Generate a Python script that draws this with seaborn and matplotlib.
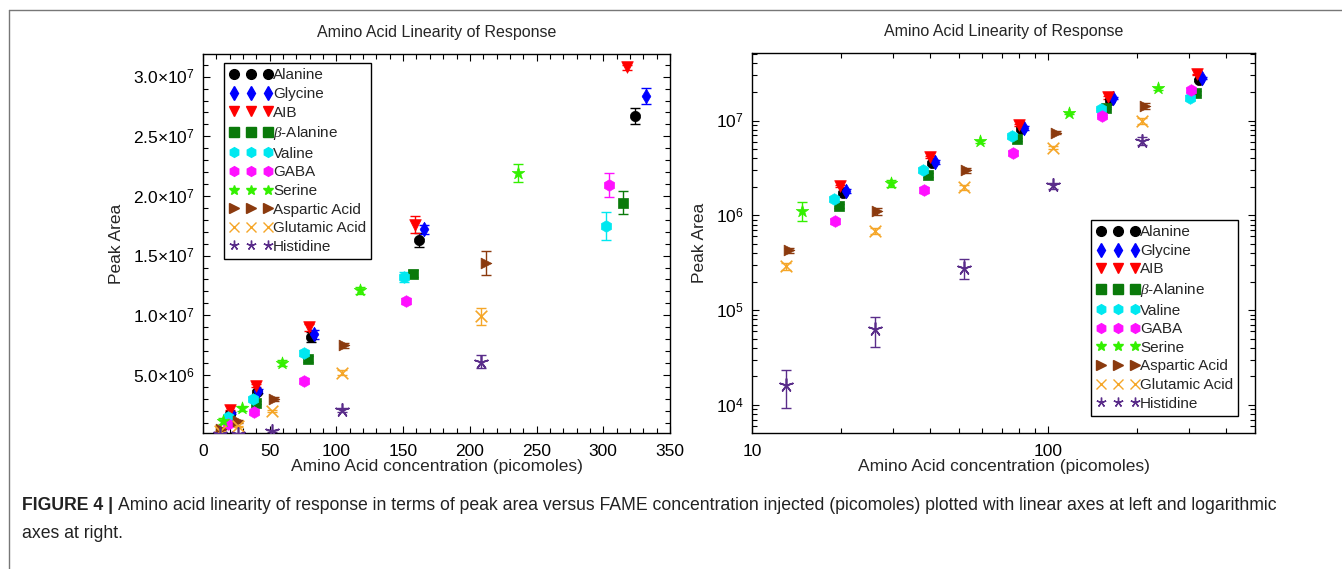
import numpy as np
import pandas as pd
import seaborn as sns
import matplotlib
matplotlib.use("Agg")
import matplotlib.pyplot as plt
from matplotlib.lines import Line2D
from matplotlib.ticker import MultipleLocator, FixedLocator, FuncFormatter, LogLocator, NullFormatter

# data: concentration (picomoles), peak area, error
acids = ["Alanine", "Glycine", "AIB", r"$\beta$-Alanine", "Valine", "GABA",
         "Serine", "Aspartic Acid", "Glutamic Acid", "Histidine"]

conc_alanine = [20.3, 40.5, 81, 162, 324]
conc_glycine = [20.8, 41.5, 83, 166, 332]
conc_aib = [19.9, 39.8, 79.5, 159, 318]
conc_balanine = [19.7, 39.4, 78.8, 157.5, 315]
conc_valine = [18.9, 37.8, 75.6, 151, 302]
conc_gaba = [19.0, 38.0, 76, 152, 304]
conc_serine = [14.75, 29.5, 59, 118, 236]
conc_aspartic = [13.3, 26.5, 53, 106, 212]
conc_glutamic = [13.0, 26.0, 52, 104, 208]
conc_histidine = [13.0, 26.0, 52, 104, 208]

area_alanine = [1.72e6, 3.6e6, 8.2e6, 1.63e7, 2.67e7]
area_glycine = [1.82e6, 3.65e6, 8.4e6, 1.72e7, 2.84e7]
area_aib = [2.02e6, 4.1e6, 9.0e6, 1.76e7, 3.08e7]
area_balanine = [1.26e6, 2.68e6, 6.37e6, 1.35e7, 1.945e7]
area_valine = [1.5e6, 3.0e6, 6.8e6, 1.32e7, 1.75e7]
area_gaba = [8.65e5, 1.86e6, 4.53e6, 1.12e7, 2.09e7]
area_serine = [1.12e6, 2.19e6, 6.03e6, 1.21e7, 2.19e7]
area_aspartic = [4.28e5, 1.10e6, 2.98e6, 7.48e6, 1.44e7]
area_glutamic = [2.9e5, 6.8e5, 1.97e6, 5.2e6, 9.9e6]
area_histidine = [1.62e4, 6.27e4, 2.79e5, 2.07e6, 6.1e6]

err_alanine = [8e4, 1.6e5, 4e5, 6e5, 7e5]
err_glycine = [8e4, 1.7e5, 4e5, 4e5, 6.5e5]
err_aib = [5e4, 1e5, 3e5, 7e5, 2e5]
err_balanine = [6e4, 1.2e5, 2.5e5, 3e5, 9.5e5]
err_valine = [7e4, 1.3e5, 2.5e5, 4e5, 1.16e6]
err_gaba = [5e4, 1.2e5, 2e5, 2.5e5, 1.0e6]
err_serine = [2.5e5, 2e5, 2.5e5, 3e5, 7.7e5]
err_aspartic = [3e4, 9e4, 1.5e5, 2e5, 1.0e6]
err_glutamic = [2.5e4, 5e4, 1.2e5, 2e5, 7.4e5]
err_histidine = [7e3, 2.2e4, 6.8e4, 1.5e5, 5.3e5]

conc = [conc_alanine, conc_glycine, conc_aib, conc_balanine, conc_valine,
        conc_gaba, conc_serine, conc_aspartic, conc_glutamic, conc_histidine]
area = [area_alanine, area_glycine, area_aib, area_balanine, area_valine,
        area_gaba, area_serine, area_aspartic, area_glutamic, area_histidine]
err = [err_alanine, err_glycine, err_aib, err_balanine, err_valine,
       err_gaba, err_serine, err_aspartic, err_glutamic, err_histidine]

colors = ["black", "#0000ff", "#ff0000", "#0a7a0a", "#00e8f0", "#ff10ff",
          "#33f000", "#8b3a0e", "#f5a628", "#5a2d8a"]
markers = ["o", "d", "v", "s", "h", "h", "*", ">", "x", (5, 2, 0)]
sizes = [55, 55, 70, 50, 70, 70, 90, 60, 70, 90]

df = pd.DataFrame({
    "acid": np.repeat(acids, 5),
    "conc": np.concatenate(conc),
    "area": np.concatenate(area),
    "err": np.concatenate(err),
})

sns.set_style("ticks")
plt.rcParams["font.family"] = ["Liberation Sans", "DejaVu Sans"]
plt.rcParams["mathtext.fontset"] = "custom"
plt.rcParams["mathtext.rm"] = "Liberation Sans"
plt.rcParams["mathtext.it"] = "Liberation Serif:italic"
plt.rcParams["font.size"] = 12

fig = plt.figure(figsize=(13.42, 5.69), dpi=100)
ax1 = fig.add_axes([203 / 1342, 1 - 433 / 569, 467 / 1342, 379 / 569])
ax2 = fig.add_axes([752 / 1342, 1 - 433 / 569, 503 / 1342, 380 / 569])


def draw(ax):
    for i, name in enumerate(acids):
        sub = df[df["acid"] == name]
        ax.errorbar(sub["conc"], sub["area"], yerr=sub["err"], fmt="none",
                    ecolor=colors[i], elinewidth=1, capsize=3.5, capthick=1, zorder=2)
        line_art = markers[i] in ("x", (5, 2, 0))
        kw = dict(linewidth=1.2) if line_art else dict(edgecolor=colors[i], linewidth=0.5)
        sns.scatterplot(data=sub, x="conc", y="area", ax=ax, color=colors[i],
                        marker=markers[i], s=sizes[i], legend=False, zorder=3, **kw)
    ax.set_title("Amino Acid Linearity of Response", fontsize=11.5, pad=12)
    ax.set_xlabel("Amino Acid concentration (picomoles)", fontsize=12.5, labelpad=0)
    ax.set_ylabel("Peak Area", fontsize=12.5, labelpad=6)
    for s in ax.spines.values():
        s.set_color("black")
        s.set_linewidth(1)
        s.set_visible(True)
    ax.tick_params(which="both", direction="in", top=True, right=True,
                   colors="black", labelsize=12.5)
    ax.tick_params(which="major", length=5, width=0.8, pad=8)
    ax.tick_params(which="minor", length=3.5, width=0.8)


draw(ax1)
ax1.set_xlim(0, 350)
ax1.set_ylim(1.3e5, 3.19e7)
ax1.xaxis.set_major_locator(MultipleLocator(50))
ax1.xaxis.set_minor_locator(MultipleLocator(10))
ax1.yaxis.set_major_locator(FixedLocator([5e6, 1e7, 1.5e7, 2e7, 2.5e7, 3e7]))
ax1.yaxis.set_minor_locator(MultipleLocator(1e6))


def sci(v, pos):
    e = int(np.floor(np.log10(v)))
    return f"{v / 10 ** e:.1f}×10$^{{{e}}}$"


ax1.yaxis.set_major_formatter(FuncFormatter(sci))
ax1.tick_params(axis="y", pad=6)

draw(ax2)
ax2.set_xscale("log")
ax2.set_yscale("log")
ax2.set_xlim(10, 500)
ax2.set_ylim(5070, 5.16e7)
ax2.xaxis.set_major_locator(FixedLocator([10, 100]))
ax2.xaxis.set_major_formatter(FuncFormatter(lambda v, p: f"{v:.0f}"))
ax2.xaxis.set_minor_locator(LogLocator(base=10, subs=np.arange(2, 10)))
ax2.xaxis.set_minor_formatter(NullFormatter())
ax2.yaxis.set_major_locator(FixedLocator([1e4, 1e5, 1e6, 1e7]))
ax2.yaxis.set_major_formatter(FuncFormatter(lambda v, p: f"10$^{{{int(round(np.log10(v)))}}}$"))
ax2.yaxis.set_minor_locator(LogLocator(base=10, subs=np.arange(2, 10)))
ax2.yaxis.set_minor_formatter(NullFormatter())
ax2.tick_params(axis="y", pad=6)

handles = [Line2D([], [], linestyle="none", marker=markers[i], color=colors[i],
                  markersize=7, markeredgewidth=1) for i in range(len(acids))]
for ax, loc, anchor in [(ax1, "upper left", (0.045, 0.976)),
                        (ax2, "lower left", (0.674, 0.045))]:
    leg = ax.legend(handles, acids, loc=loc, bbox_to_anchor=anchor, borderaxespad=0,
                    numpoints=3, handlelength=2.8, handletextpad=0.05,
                    labelspacing=0.3, borderpad=0.35, fontsize=11,
                    fancybox=False, framealpha=1, edgecolor="black")
    leg.get_frame().set_linewidth(1)

# outer frame
fig.add_artist(Line2D([9 / 1342, 9 / 1342], [0, 1 - 10 / 569], color="#777777", lw=1))
fig.add_artist(Line2D([9 / 1342, 1], [1 - 10 / 569, 1 - 10 / 569], color="#777777", lw=1))

# caption
fig.canvas.draw()
bold = fig.text(22 / 1342, 1 - 506 / 569, "FIGURE 4 |", fontsize=12.7,
                fontweight="bold", va="center", color="#222222")
bb = bold.get_window_extent(fig.canvas.get_renderer())
fig.text((bb.x1 + 5) / 1342, 1 - 506 / 569,
         "Amino acid linearity of response in terms of peak area versus FAME concentration "
         "injected (picomoles) plotted with linear axes at left and logarithmic",
         fontsize=12.7, va="center", color="#222222")
fig.text(22 / 1342, 1 - 533 / 569, "axes at right.", fontsize=12.7, va="center",
         color="#222222")

fig.savefig("out.png", dpi=100)
